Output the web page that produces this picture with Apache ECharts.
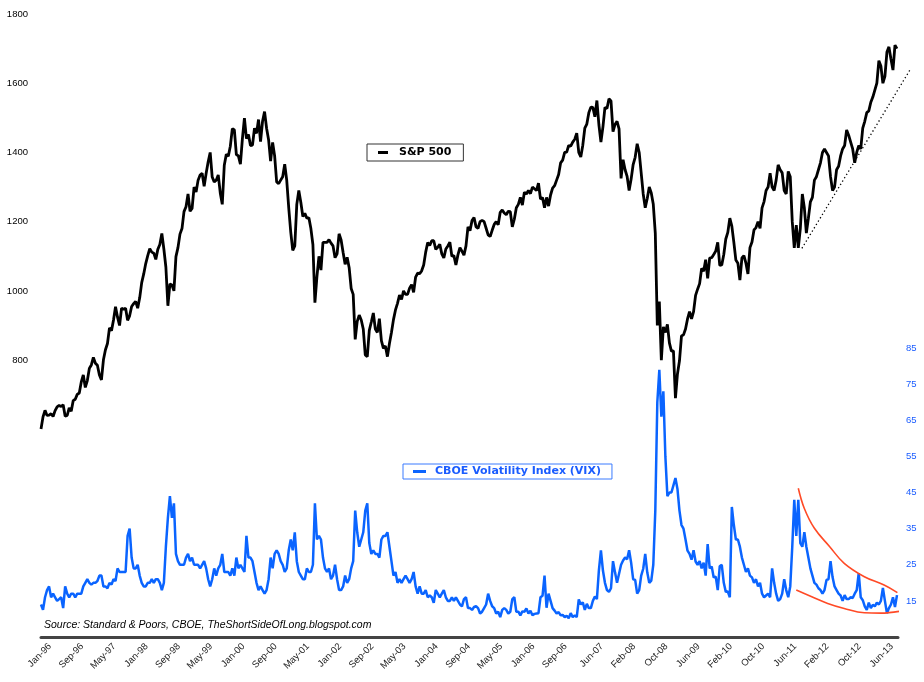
<!DOCTYPE html>
<html>
<head>
<meta charset="utf-8">
<script src="https://cdn.jsdelivr.net/npm/echarts@6/dist/echarts.min.js"></script>
<style>
html,body{margin:0;padding:0;background:#ffffff;}
#chart{width:924px;height:682px;}
</style>
</head>
<body>
<div id="chart"></div>
<script>
// Semi-monthly readings (1st and 16th of each month), Jan-1996 .. Sep-2013
const spx = [
  601, 636, 655, 640, 641, 645, 637, 654, 665, 669, 666, 671, 638, 640, 662, 652, 683, 687, 701, 705, 737, 757, 721, 741,
  776, 786, 808, 791, 785, 757, 743, 801, 830, 848, 893, 885, 916, 954, 924, 900, 950, 947, 950, 915, 928, 955, 963, 970,
  950, 980, 1024, 1049, 1079, 1102, 1122, 1112, 1109, 1091, 1120, 1134, 1166, 1121, 1069, 957, 1020, 1017, 1000, 1099, 1125, 1164, 1180, 1229,
  1243, 1280, 1230, 1238, 1300, 1286, 1320, 1335, 1340, 1302, 1340, 1373, 1400, 1329, 1315, 1320, 1335, 1283, 1250, 1363, 1395, 1389, 1418, 1469,
  1465, 1394, 1390, 1366, 1440, 1499, 1440, 1452, 1420, 1421, 1470, 1455, 1495, 1431, 1490, 1518, 1470, 1437, 1375, 1429, 1390, 1315, 1310, 1320,
  1330, 1366, 1320, 1240, 1170, 1117, 1130, 1250, 1290, 1256, 1215, 1224, 1210, 1211, 1180, 1134, 966, 1041, 1100, 1060, 1140, 1140, 1140, 1148,
  1138, 1130, 1096, 1107, 1165, 1147, 1111, 1077, 1097, 1067, 1007, 990, 860, 912, 930, 916, 890, 815, 810, 886, 910, 936, 890, 880,
  920, 856, 834, 841, 810, 848, 880, 917, 945, 964, 988, 975, 1000, 990, 990, 1008, 1018, 996, 1040, 1051, 1050, 1058, 1075, 1112,
  1140, 1131, 1145, 1145, 1120, 1126, 1135, 1107, 1095, 1121, 1130, 1141, 1100, 1102, 1075, 1104, 1125, 1115, 1103, 1130, 1185, 1174, 1203, 1212,
  1185, 1181, 1200, 1204, 1200, 1181, 1162, 1157, 1175, 1192, 1200, 1191, 1227, 1234, 1225, 1220, 1230, 1229, 1185, 1207, 1240, 1250, 1270, 1248,
  1285, 1280, 1290, 1281, 1300, 1295, 1290, 1311, 1265, 1270, 1240, 1270, 1245, 1277, 1297, 1304, 1320, 1336, 1370, 1378, 1400, 1401, 1420, 1418,
  1430, 1438, 1456, 1400, 1387, 1421, 1470, 1482, 1515, 1531, 1530, 1503, 1550, 1480, 1430, 1474, 1530, 1527, 1555, 1549, 1460, 1481, 1490, 1468,
  1325, 1379, 1350, 1331, 1290, 1323, 1365, 1386, 1425, 1400, 1340, 1280, 1240, 1267, 1300, 1283, 1250, 1166, 900, 969, 800, 896, 880, 903,
  850, 826, 827, 690, 760, 798, 870, 873, 890, 919, 940, 919, 940, 987, 1005, 1021, 1065, 1057, 1090, 1036, 1095, 1096, 1105, 1115,
  1140, 1074, 1075, 1105, 1150, 1169, 1210, 1187, 1140, 1089, 1080, 1031, 1095, 1102, 1080, 1049, 1125, 1141, 1176, 1183, 1200, 1181, 1240, 1258,
  1290, 1300, 1340, 1300, 1290, 1320, 1364, 1350, 1341, 1290, 1280, 1345, 1330, 1200, 1124, 1190, 1124, 1180, 1280, 1240, 1167, 1210, 1257, 1270,
  1320, 1330, 1350, 1370, 1400, 1410, 1400, 1390, 1330, 1290, 1300, 1350, 1360, 1390, 1410, 1420, 1465, 1450, 1430, 1410, 1370, 1400, 1420, 1410,
  1470, 1490, 1515, 1520, 1545, 1560, 1580, 1600, 1665, 1650, 1600, 1620, 1690, 1705, 1670, 1638, 1710, 1700
];

const vix = [
  14, 12.5, 16, 18, 19, 16, 17, 16, 15, 15.5, 16, 13, 19, 17, 16, 17, 17, 16, 17, 17, 17, 19, 20, 21,
  20, 19.5, 20, 20, 20.5, 22, 22, 19, 19, 18.5, 20, 19.5, 21, 20.5, 24, 23, 23, 23, 23, 33, 35, 27, 24, 24,
  25, 22, 20, 19, 19, 20, 20, 21, 20, 21, 21, 20, 18, 20, 30, 38, 44, 38, 42, 28, 26, 25, 25, 25,
  27, 28, 26, 27, 25, 25, 25, 24, 25, 26, 24, 21, 19, 21, 24, 22, 24, 25, 28, 23, 23, 23, 22, 24,
  22, 27, 24, 25, 24, 23, 33, 27, 27, 26, 23, 20, 18, 19, 18, 17, 18, 21, 27, 24, 28, 29, 28, 26,
  25, 23, 24, 29, 32, 29, 34, 26, 23, 22, 21, 21, 24, 23, 23, 25, 42, 32, 33, 32, 27, 24, 23, 24,
  21, 22, 25, 21, 18, 18, 19, 22, 20, 21, 24, 26, 40, 34, 30, 32, 34, 40, 42, 31, 28, 29, 28, 28,
  27, 32, 33, 33, 34, 30, 26, 22, 23, 20, 21, 20, 21, 22, 21, 20, 21, 23, 19, 17, 19, 17, 17, 18,
  16, 16.5, 16, 14.5, 18, 17, 16, 17, 18, 16, 15, 15, 16, 15, 16, 15, 14, 13.5, 15.5, 16, 13, 13, 12.5, 13.3,
  13.5, 13, 11.5, 12, 13, 14, 17, 15, 13.5, 13, 11.5, 12, 10.5, 12.5, 13, 12.5, 11.5, 12, 15.5, 16, 12, 12, 11, 12.1,
  12, 12.9, 11.5, 12.3, 11, 11.4, 11.5, 11.6, 16, 16.4, 22, 13.1, 17, 15, 13, 12.3, 11.5, 11.9, 11, 11.1, 10.5, 10.9, 10.2, 11.6,
  10.5, 11, 10.5, 15.4, 14, 14.6, 12.5, 14.2, 13, 13, 15, 16.2, 15.5, 23.5, 29, 23.4, 20, 18, 17.5, 18.5, 26, 22.9, 20, 22.5,
  25, 26.2, 27, 26.5, 29, 25.6, 21, 20.8, 17, 18, 22, 23.9, 28, 22.9, 20, 20.6, 25, 40, 70, 79, 66, 73, 55, 44,
  45, 45, 47, 49, 46, 40, 36, 35, 32, 28.9, 28, 26.4, 29, 25.9, 25, 26, 24, 25.6, 22, 30.7, 24, 24.5, 21.5, 21.7,
  18, 24.6, 25, 20, 17.5, 17.6, 16, 41, 36, 32, 32, 30, 27, 25, 23, 24, 22, 21.5, 20, 21, 19, 20, 17, 16,
  16.5, 17, 16, 24, 20, 17, 15, 15.5, 17, 21, 18, 16, 19, 30, 43, 33, 43, 31, 30, 34, 30, 27, 24, 22,
  20, 19.5, 18.5, 18, 17, 18, 20.8, 21, 26, 21.6, 19, 18, 17, 16.5, 15, 16.6, 15.5, 15.5, 16, 15.8, 17, 18, 22.7, 16,
  15.2, 13.5, 12.5, 14.5, 13, 13.9, 13.5, 14.5, 14, 15, 18.6, 15, 11.6, 13, 14, 16, 13.3, 16.6
];

const tickLabels = ['Jan-96','Sep-96','May-97','Jan-98','Sep-98','May-99','Jan-00','Sep-00','May-01',
  'Jan-02','Sep-02','May-03','Jan-04','Sep-04','May-05','Jan-06','Sep-06','Jun-07','Feb-08','Oct-08',
  'Jun-09','Feb-10','Oct-10','Jun-11','Feb-12','Oct-12','Jun-13'];

// Annotations (x in months since Jan-96, y in index units)
const upperArc = [[188,46.2],[189.5,40.6],[192,35.1],[195.8,30],[199.4,25.4],[204.4,21.7],[209.3,19.4],[212.6,17.3]];
const lowerArc = [[187.5,18],[191.2,16.2],[195.3,14.3],[199.4,12.9],[204.4,11.7],[208.5,11.6],[213,12.1]];
const trendLine = [[188.9,1123],[215.7,1638]];

const monthNames = ['Jan','Feb','Mar','Apr','May','Jun','Jul','Aug','Sep','Oct','Nov','Dec'];
const months = [];
for (let k = 0; k < spx.length / 2; k++) {
  const y = (96 + Math.floor(k / 12)) % 100;
  months.push(monthNames[k % 12] + '-' + (y < 10 ? '0' + y : '' + y));
}

const chart = echarts.init(document.getElementById('chart'), null, {renderer: 'canvas'});
const baseFont = 'Liberation Sans, Arial, sans-serif';
const pxPerMonth = 857 / 212.75;
const xMaxData = 216;
const gridRight = 924 - 41 - xMaxData * pxPerMonth;

chart.setOption({
  animation: false,
  backgroundColor: '#ffffff',
  title: {
    text: 'Source: Standard & Poors, CBOE, TheShortSideOfLong.blogspot.com',
    left: 44, top: 620, padding: 0,
    textStyle: {fontFamily: baseFont, fontStyle: 'italic', fontWeight: 'normal', fontSize: 10.5, color: '#000'}
  },
  legend: [
    {
      data: ['S&P 500'], left: 367, top: 144, orient: 'horizontal',
      borderColor: '#333', borderWidth: 1, padding: [3, 12, 3, 11],
      icon: 'rect', itemWidth: 10, itemHeight: 3,
      selectedMode: false,
      textStyle: {fontFamily: 'DejaVu Sans', fontWeight: 'bold', fontSize: 11, color: '#000', padding: [0, 0, 0, 6]}
    },
    {
      data: ['CBOE Volatility Index (VIX)'], left: 403, top: 464, orient: 'horizontal',
      borderColor: '#3a7bff', borderWidth: 1, padding: [2, 11, 2, 10],
      icon: 'rect', itemWidth: 13, itemHeight: 3,
      selectedMode: false,
      textStyle: {fontFamily: 'DejaVu Sans', fontWeight: 'bold', fontSize: 11, color: '#1a5cff', padding: [0, 0, 0, 4]}
    }
  ],
  grid: [
    {left: 41, right: gridRight, top: 14, bottom: 45, containLabel: false, outerBoundsMode: 'none'},
    {left: 50, right: 20, top: 14, bottom: 45, containLabel: false, outerBoundsMode: 'none'},
    {left: 41, right: 26, top: 14, bottom: 45, containLabel: false, outerBoundsMode: 'none'}
  ],
  xAxis: [
    {
      type: 'value', gridIndex: 0, min: 0, max: xMaxData,
      axisLine: {show: false}, axisTick: {show: false}, axisLabel: {show: false}, splitLine: {show: false}
    },
    {
      type: 'category', gridIndex: 1, data: months, boundaryGap: false,
      axisLine: {show: false}, axisTick: {show: false}, splitLine: {show: false},
      axisLabel: {
        show: true, rotate: 45, margin: 8, fontFamily: baseFont, fontSize: 9.5, color: '#222',
        interval: function (idx, val) { return tickLabels.indexOf(val) >= 0; }
      }
    },
    {
      type: 'value', gridIndex: 2, min: 0, max: 212.75,
      axisLine: {show: true, onZero: false, lineStyle: {color: '#444', width: 3}},
      axisTick: {show: false}, axisLabel: {show: false}, splitLine: {show: false}
    }
  ],
  yAxis: [
    {
      type: 'value', gridIndex: 0, position: 'left', min: 0, max: 1800, interval: 200,
      axisLine: {show: false}, axisTick: {show: false}, splitLine: {show: false},
      axisLabel: {
        margin: 13, fontFamily: baseFont, fontSize: 9.5, color: '#000',
        formatter: function (v) { return v >= 800 ? String(v) : ''; }
      }
    },
    {
      type: 'value', gridIndex: 0, position: 'right', offset: -(924 - gridRight - 898), min: 5, max: 177.5, interval: 10,
      axisLine: {show: false}, axisTick: {show: false}, splitLine: {show: false},
      axisLabel: {
        margin: 8, fontFamily: baseFont, fontSize: 9.5, color: '#1a5cff',
        formatter: function (v) { return (v >= 15 && v <= 85) ? String(v) : ''; }
      }
    },
    {type: 'value', gridIndex: 1, show: false, min: 0, max: 1},
    {type: 'value', gridIndex: 2, show: false, min: 0, max: 1}
  ],
  series: [
    {
      name: 'S&P 500', type: 'line', xAxisIndex: 0, yAxisIndex: 0,
      data: spx.map(function (v, k) { return [k * 0.5, v]; }),
      showSymbol: false, symbol: 'none', itemStyle: {color: '#000'},
      lineStyle: {color: '#000', width: 2.8}, z: 3
    },
    {
      name: 'CBOE Volatility Index (VIX)', type: 'line', xAxisIndex: 0, yAxisIndex: 1,
      data: vix.map(function (v, k) { return [k * 0.5, v]; }),
      showSymbol: false, symbol: 'none', itemStyle: {color: '#0a64ff'},
      lineStyle: {color: '#0a64ff', width: 2.5}, z: 3
    },
    {
      name: 'upperArc', type: 'line', xAxisIndex: 0, yAxisIndex: 1, data: upperArc,
      smooth: 0.4, showSymbol: false, symbol: 'none',
      lineStyle: {color: '#ff4a26', width: 1.6}, z: 4
    },
    {
      name: 'lowerArc', type: 'line', xAxisIndex: 0, yAxisIndex: 1, data: lowerArc,
      smooth: 0.4, showSymbol: false, symbol: 'none',
      lineStyle: {color: '#ff4a26', width: 1.6}, z: 4
    },
    {
      name: 'trend', type: 'line', xAxisIndex: 0, yAxisIndex: 0, data: trendLine,
      showSymbol: false, symbol: 'none',
      lineStyle: {color: '#000', width: 1.3, type: [1.3, 2.6]}, z: 2
    }
  ]
});
</script>
</body>
</html>
